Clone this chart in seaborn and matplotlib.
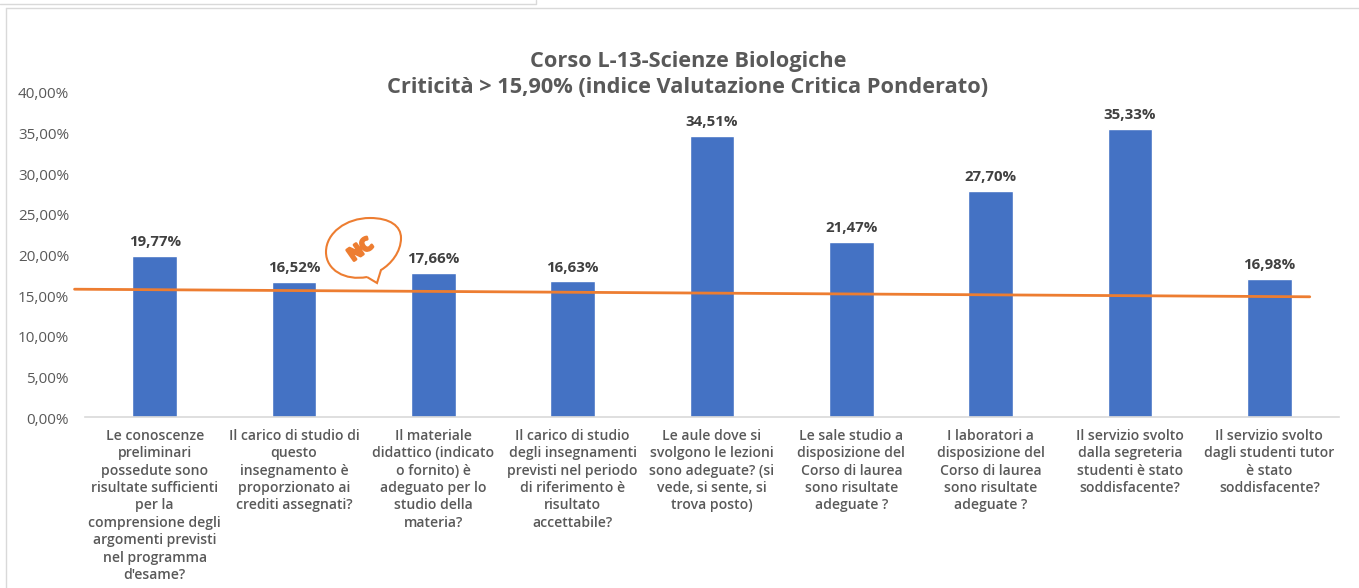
import matplotlib
matplotlib.use("Agg")
import matplotlib.pyplot as plt
import matplotlib.patheffects as pe
from matplotlib.lines import Line2D
from matplotlib.patches import PathPatch
from matplotlib.path import Path
from matplotlib.transforms import Affine2D, ScaledTranslation
import pandas as pd
import seaborn as sns

categories = [
    "Le conoscenze\npreliminari\npossedute sono\nrisultate sufficienti\nper la\ncomprensione degli\nargomenti previsti\nnel programma\nd'esame?",
    "Il carico di studio di\nquesto\ninsegnamento è\nproporzionato ai\ncrediti assegnati?",
    "Il materiale\ndidattico (indicato\no fornito) è\nadeguato per lo\nstudio della\nmateria?",
    "Il carico di studio\ndegli insegnamenti\nprevisti nel periodo\ndi riferimento è\nrisultato\naccettabile?",
    "Le aule dove si\nsvolgono le lezioni\nsono adeguate? (si\nvede, si sente, si\ntrova posto)",
    "Le sale studio a\ndisposizione del\nCorso di laurea\nsono risultate\nadeguate ?",
    "I laboratori a\ndisposizione del\nCorso di laurea\nsono risultate\nadeguate ?",
    "Il servizio svolto\ndalla segreteria\nstudenti è stato\nsoddisfacente?",
    "Il servizio svolto\ndagli studenti tutor\nè stato\nsoddisfacente?",
]
values = [19.77, 16.52, 17.66, 16.63, 34.51, 21.47, 27.70, 35.33, 16.98]
value_labels = ["19,77%", "16,52%", "17,66%", "16,63%", "34,51%", "21,47%", "27,70%", "35,33%", "16,98%"]
trend_x = [-0.575, 8.29]
trend_y = [15.68, 14.75]
y_ticks = [0, 5, 10, 15, 20, 25, 30, 35, 40]
y_tick_labels = ["0,00%", "5,00%", "10,00%", "15,00%", "20,00%", "25,00%", "30,00%", "35,00%", "40,00%"]
title = "Corso L-13-Scienze Biologiche\nCriticità > 15,90% (indice Valutazione Critica Ponderato)"

W, H = 1359, 588
sns.set_theme(style="white")
plt.rcParams["font.family"] = ["Open Sans", "DejaVu Sans"]
TEXT = "#595959"
ORANGE = "#ED7D31"

fig = plt.figure(figsize=(W / 100, H / 100), dpi=100, facecolor="white")
ax = fig.add_axes([85 / W, 1 - 417 / H, (1339 - 85) / W, (417 - 91) / H])
df = pd.DataFrame({"categoria": categories, "valore": values})
sns.barplot(data=df, x="categoria", y="valore", color="#4472C4", saturation=1, width=0.32, ax=ax)
ax.set_xlim(-0.5, 8.5)
ax.set_ylim(0, 40)
ax.set_xlabel("")
ax.set_ylabel("")
ax.set_yticks(y_ticks)
ax.set_yticklabels(y_tick_labels, fontsize=11, color=TEXT)
ax.set_xticks(range(len(categories)))
ax.set_xticklabels(categories, fontsize=10.1, fontweight="semibold", color=TEXT, linespacing=1.31, va="top")
ax.tick_params(axis="both", length=0)
ax.tick_params(axis="x", pad=8.5)
ax.tick_params(axis="y", pad=11.5)
shift = ScaledTranslation(0, -1.5 / 100, fig.dpi_scale_trans)
for lab in ax.get_yticklabels():
    lab.set_transform(lab.get_transform() + shift)
for s in ["top", "right", "left"]:
    ax.spines[s].set_visible(False)
ax.spines["bottom"].set_color("#D9D9D9")
ax.spines["bottom"].set_linewidth(1.2)

for i, (v, lab) in enumerate(zip(values, value_labels)):
    ax.annotate(lab, (i, v), xytext=(0, 5), textcoords="offset points", ha="center", va="bottom",
                fontsize=10.8, fontweight="bold", color="#404040")

ax.plot(trend_x, trend_y, color=ORANGE, lw=2, clip_on=False, zorder=5)

fig.text(688 / W, 1 - 74.5 / H, title, ha="center", va="center", fontsize=15.7, fontweight="bold",
         color=TEXT, linespacing=1.32)

# outer frame lines
px = Affine2D().scale(1 / W, -1 / H).translate(0, 1) + fig.transFigure
for xs, ys in [([0, 536, 536], [4, 4, 0]), ([6, 6], [588, 8]), ([6, 1359], [8, 8])]:
    fig.add_artist(Line2D(xs, ys, transform=px, color="#D9D9D9", lw=1))

# speech bubble
bubble = [(367, 277),
          (345, 281), (326, 270), (326, 252),
          (326, 233), (346, 218), (370, 218),
          (390, 218), (401, 226), (401, 238),
          (401, 252), (391, 264), (381, 270),
          (377, 283),
          (367, 277)]
bcodes = [Path.MOVETO] + [Path.CURVE4] * 12 + [Path.LINETO] * 2
fig.add_artist(PathPatch(Path(bubble, bcodes), transform=px, fill=False, edgecolor=ORANGE, lw=1.5))
logo = fig.text(360.5 / W, 1 - 250 / H, "NC", rotation=35, ha="center", va="center", fontsize=13,
                fontweight="bold", color=ORANGE)
logo.set_path_effects([pe.withStroke(linewidth=2, foreground=ORANGE)])

fig.savefig("out.png", dpi=100)
